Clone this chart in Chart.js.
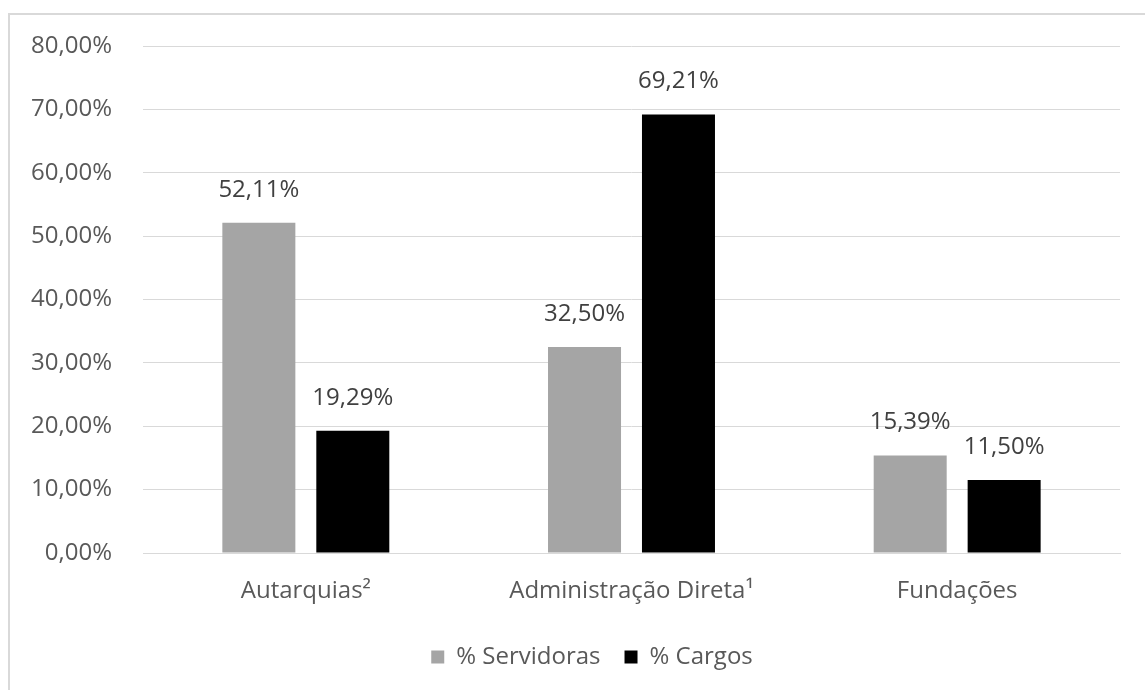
<!DOCTYPE html>
<html>
<head>
<meta charset="utf-8">
<script src="https://cdn.jsdelivr.net/npm/chart.js@4/dist/chart.umd.min.js"></script>
<style>
  html, body { margin: 0; padding: 0; background: #ffffff; }
  #wrap { position: relative; width: 1145px; height: 690px; }
  #frame { position: absolute; left: 8px; top: 13px; right: -4px; bottom: -4px;
           border-top: 2px solid #d9d9d9; border-left: 2px solid #d9d9d9; }
  canvas { position: absolute; left: 0; top: 0; }
</style>
</head>
<body>
<div id="wrap">
  <div id="frame"></div>
  <canvas id="chart" width="1145" height="690"></canvas>
</div>
<script>
const categories = ['Autarquias²', 'Administração Direta¹', 'Fundações'];
const servidoras = [52.11, 32.50, 15.39];
const cargos = [19.29, 69.21, 11.50];
const yTicks = [0, 10, 20, 30, 40, 50, 60, 70, 80];

const FONT = "'Open Sans', 'Noto Sans', sans-serif";
const TEXT = '#595959';

const fmtPct = v => v.toFixed(2).replace('.', ',') + '%';

// Writes each bar's value just above it
const valueLabels = {
  id: 'valueLabels',
  afterDatasetsDraw(chart) {
    const ctx = chart.ctx;
    ctx.save();
    ctx.font = '24px ' + FONT;
    ctx.fillStyle = '#404040';
    ctx.textAlign = 'center';
    ctx.textBaseline = 'middle';
    chart.data.datasets.forEach((ds, i) => {
      chart.getDatasetMeta(i).data.forEach((bar, j) => {
        ctx.fillText(fmtPct(ds.data[j]), bar.x, bar.y - 33);
      });
    });
    ctx.restore();
  }
};

// Nudges the legend a little to the right of the canvas centre
const LEGEND_OFFSET = 32;
const legendShift = {
  id: 'legendShift',
  afterLayout(chart) {
    const lg = chart.legend;
    if (!lg) return;
    lg.left += LEGEND_OFFSET;
    lg.right += LEGEND_OFFSET;
  }
};

new Chart(document.getElementById('chart'), {
  type: 'bar',
  data: {
    labels: categories,
    datasets: [
      { label: '% Servidoras', data: servidoras, backgroundColor: '#a5a5a5',
        categoryPercentage: 0.577, barPercentage: 0.777 },
      { label: '% Cargos', data: cargos, backgroundColor: '#000000',
        categoryPercentage: 0.577, barPercentage: 0.777 }
    ]
  },
  options: {
    responsive: false,
    animation: false,
    layout: { padding: { top: 46, right: 25, bottom: 11, left: 0 } },
    scales: {
      x: {
        grid: { display: false },
        border: { display: true, color: '#d9d9d9', width: 1 },
        ticks: { color: TEXT, font: { family: FONT, size: 24 }, padding: 16 },
        afterFit(scale) { scale.height = 68; }
      },
      y: {
        min: 0, max: 80,
        afterBuildTicks(scale) { scale.ticks = yTicks.map(v => ({ value: v })); },
        grid: { color: '#d9d9d9', drawTicks: false },
        border: { display: false },
        ticks: { color: TEXT, font: { family: FONT, size: 24 }, padding: 31,
                 callback: v => fmtPct(v) },
        afterFit(scale) { scale.width = 143; }
      }
    },
    plugins: {
      legend: {
        position: 'bottom',
        labels: { color: TEXT, font: { family: FONT, size: 24 },
                  boxWidth: 13, boxHeight: 13, padding: 24 }
      },
      tooltip: { enabled: false }
    }
  },
  plugins: [valueLabels, legendShift]
});
</script>
</body>
</html>
